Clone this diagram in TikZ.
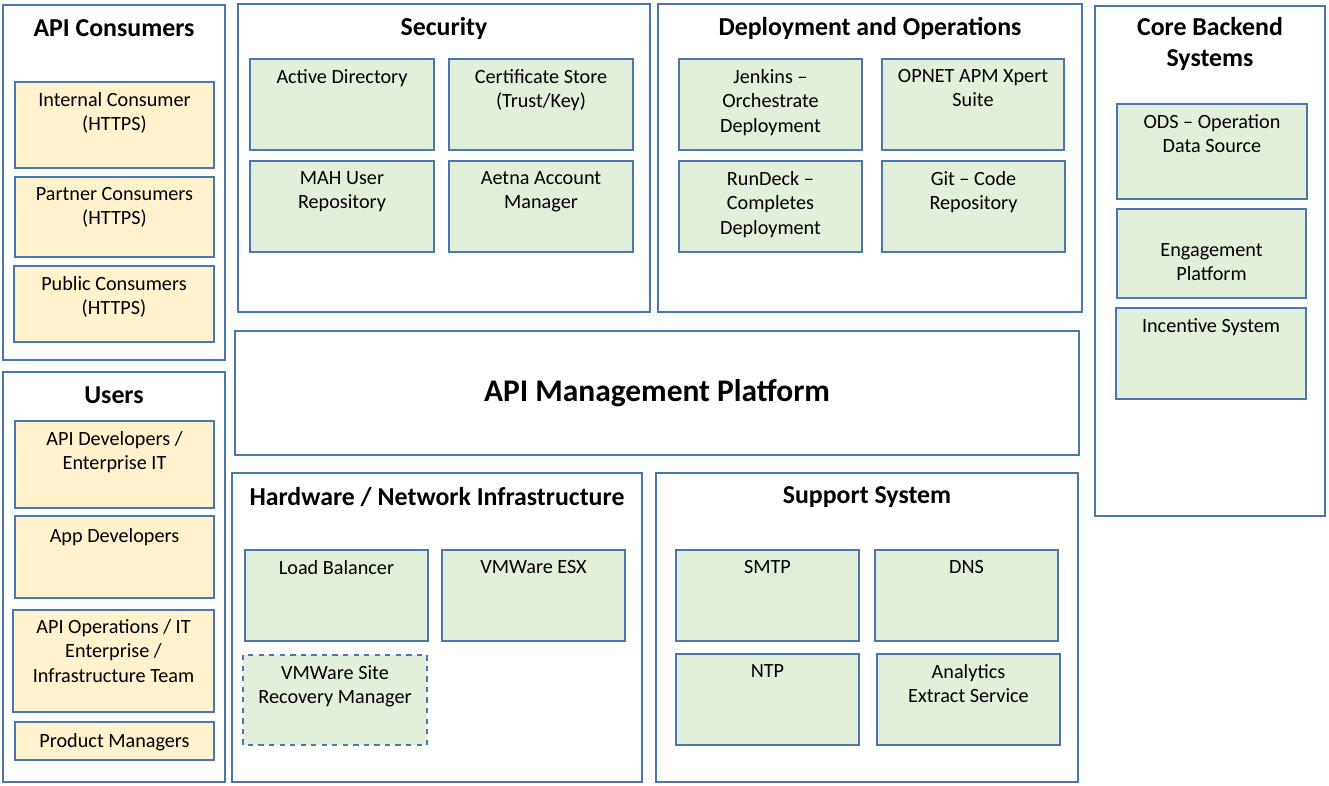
\documentclass[tikz,border=0pt]{standalone}
\usepackage{fontspec}
\setmainfont{Carlito}
\usepackage{xcolor}
\definecolor{boxline}{HTML}{4A78AE}
\definecolor{userfill}{HTML}{FFF2CC}
\definecolor{sysfill}{HTML}{E2EFDA}
\tikzset{
  group/.style={draw=boxline, line width=0.8pt, fill=white},
  userbox/.style={draw=boxline, line width=0.8pt, fill=userfill},
  sysbox/.style={draw=boxline, line width=0.8pt, fill=sysfill},
  grouptitle/.style={font=\fontsize{14.7}{17.6}\selectfont\bfseries, align=center, inner sep=0pt},
  boxtext/.style={font=\fontsize{11.5}{13.9}\selectfont, align=center, anchor=north, inner sep=0pt, yshift=-0.02cm}
}
\begin{document}
\begin{tikzpicture}[x=0.02cm,y=-0.02cm]
\useasboundingbox (0,0) rectangle (1329,786);
% API Consumers
\draw[group] (3,5) rectangle (225,360);
\node[grouptitle] (consumers) at (114,28) {API Consumers};
\draw[userbox] (15,82) rectangle (214,168);
\node[boxtext] (internal) at (114.5,91) {Internal Consumer\\(HTTPS)};
\draw[userbox] (15,177) rectangle (214,257);
\node[boxtext] (partner) at (114.5,186) {Partner Consumers\\(HTTPS)};
\draw[userbox] (14,266) rectangle (214,342);
\node[boxtext] (public) at (114,275) {Public Consumers\\(HTTPS)};

% Users
\draw[group] (3,372) rectangle (225,782);
\node[grouptitle] (users) at (114,395) {Users};
\draw[userbox] (15,421) rectangle (214,508);
\node[boxtext] (apidev) at (114.5,430) {API Developers /\\Enterprise IT};
\draw[userbox] (15,516) rectangle (214,598);
\node[boxtext] (appdev) at (114.5,527) {App Developers};
\draw[userbox] (13,610) rectangle (214,712);
\node[boxtext] (apiops) at (113.5,618) {API Operations / IT\\Enterprise /\\Infrastructure Team};
\draw[userbox] (15,722) rectangle (214,760);
\node[boxtext] (prodmgr) at (114.5,732) {Product Managers};

% Security
\draw[group] (238,4) rectangle (650,312);
\node[grouptitle] (security) at (444,28) {Security};
\draw[sysbox] (250,59) rectangle (434,150);
\node[boxtext] (ad) at (342,68) {Active Directory};
\draw[sysbox] (449,59) rectangle (633,150);
\node[boxtext] (certstore) at (541,68) {Certificate Store\\(Trust/Key)};
\draw[sysbox] (250,161) rectangle (434,252);
\node[boxtext] (mah) at (342,170) {MAH User\\Repository};
\draw[sysbox] (449,161) rectangle (633,252);
\node[boxtext] (aetna) at (541,170) {Aetna Account\\Manager};

% Deployment and Operations
\draw[group] (658,4) rectangle (1082,312);
\node[grouptitle] (deploy) at (870,28) {Deployment and Operations};
\draw[sysbox] (679,59) rectangle (862,150);
\node[boxtext] (jenkins) at (770.5,68) {Jenkins --\\Orchestrate\\Deployment};
\draw[sysbox] (882,59) rectangle (1064,150);
\node[boxtext] (opnet) at (973,68) {OPNET APM Xpert\\Suite};
\draw[sysbox] (679,161) rectangle (862,252);
\node[boxtext] (rundeck) at (770.5,170) {RunDeck --\\Completes\\Deployment};
\draw[sysbox] (882,161) rectangle (1065,252);
\node[boxtext] (git) at (973.5,170) {Git -- Code\\Repository};

% Core Backend Systems
\draw[group] (1095,6) rectangle (1325,516);
\node[grouptitle] (backend) at (1210,44) {Core Backend\\Systems};
\draw[sysbox] (1117,104) rectangle (1307,199);
\node[boxtext] (ods) at (1212,113) {ODS -- Operation\\Data Source};
\draw[sysbox] (1117,209) rectangle (1306,298);
\node[boxtext] (engage) at (1211.5,242) {Engagement\\Platform};
\draw[sysbox] (1116,308) rectangle (1306,399);
\node[boxtext] (incentive) at (1211,317) {Incentive System};

% API Management Platform
\draw[group] (235,331) rectangle (1079,455);
\node[grouptitle, font=\fontsize{17.9}{21}\selectfont\bfseries] (apim) at (657,393) {API Management Platform};

% Hardware / Network Infrastructure
\draw[group] (232,473) rectangle (642,782);
\node[grouptitle] (hardware) at (437,497) {Hardware / Network Infrastructure};
\draw[sysbox] (245,550) rectangle (428,641);
\node[boxtext] (lb) at (336.5,559) {Load Balancer};
\draw[sysbox] (442,550) rectangle (625,641);
\node[boxtext] (esx) at (533.5,559) {VMWare ESX};
\draw[sysbox, dashed] (243,655) rectangle (427,745);
\node[boxtext] (srm) at (335,664) {VMWare Site\\Recovery Manager};

% Support System
\draw[group] (656,473) rectangle (1078,782);
\node[grouptitle] (support) at (867,497) {Support System};
\draw[sysbox] (676,550) rectangle (859,641);
\node[boxtext] (smtp) at (767.5,559) {SMTP};
\draw[sysbox] (875,550) rectangle (1058,641);
\node[boxtext] (dns) at (966.5,559) {DNS};
\draw[sysbox] (676,654) rectangle (859,745);
\node[boxtext] (ntp) at (767.5,663) {NTP};
\draw[sysbox] (877,654) rectangle (1060,745);
\node[boxtext] (analytics) at (968.5,663) {Analytics\\Extract Service};
\end{tikzpicture}
\end{document}
